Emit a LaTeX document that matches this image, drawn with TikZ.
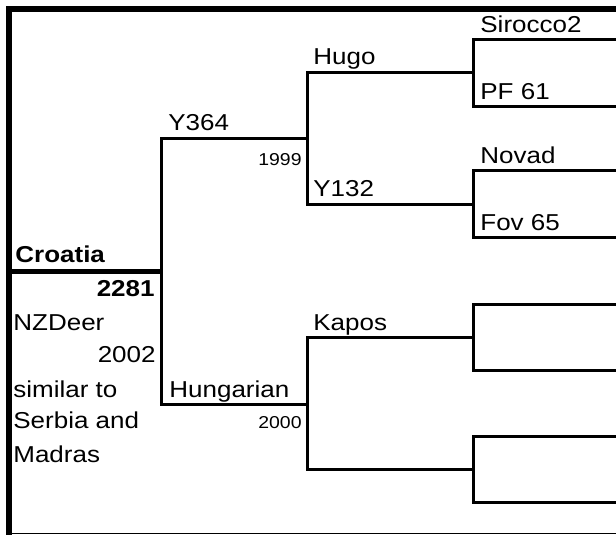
\documentclass[tikz,border=0pt]{standalone}
\usepackage{fontspec}
\setmainfont{Liberation Sans}[FakeStretch=1.13]

\begin{document}
\begin{tikzpicture}[x=0.5pt,y=-0.5pt]
  \tikzset{
    branch/.style={
      draw,
      line width=1.5pt
    },
    mainbranch/.style={
      draw,
      line width=2.5pt
    },
    frame/.style={
      draw,
      line width=2.75pt
    },
    bottomrule/.style={
      draw,
      line width=0.6pt
    },
    entry/.style={
      anchor=base west,
      inner sep=0pt,
      font=\fontsize{11.5}{14}\selectfont
    },
    boldentry/.style={
      entry,
      font=\fontsize{11.5}{14}\selectfont\bfseries
    },
    yearlbl/.style={
      anchor=base east,
      inner sep=0pt,
      font=\fontsize{8.6}{10}\selectfont
    }
  }
  \useasboundingbox (0,0) rectangle (616,535);

  % Frame
  \coordinate (frame-bl) at (9,535);
  \coordinate (frame-tl) at (9,9);
  \coordinate (frame-tr) at (616,9);
  \coordinate (rule-l) at (9,533.7);
  \coordinate (rule-r) at (616,533.7);
  \draw[frame] (frame-bl) -- (frame-tl) -- (frame-tr);
  \draw[bottomrule] (rule-l) -- (rule-r);

  % Generation 0
  \coordinate (croatia-l) at (9,271.5);
  \coordinate (croatia-r) at (161,271.5);
  \draw[mainbranch] (croatia-l) -- (croatia-r);

  % Generation 1
  \coordinate (y364-l) at (161,139);
  \coordinate (y364-r) at (307,139);
  \coordinate (hung-l) at (161,404);
  \coordinate (hung-r) at (307,404);
  \draw[branch] (y364-r) -- (y364-l) -- (hung-l) -- (hung-r);

  % Generation 2
  \coordinate (hugo-l) at (307,73);
  \coordinate (hugo-r) at (473,73);
  \coordinate (y132-l) at (307,204);
  \coordinate (y132-r) at (473,204);
  \draw[branch] (hugo-r) -- (hugo-l) -- (y132-l) -- (y132-r);
  \coordinate (kapos-l) at (307,337);
  \coordinate (kapos-r) at (473,337);
  \coordinate (dam2-l) at (307,469);
  \coordinate (dam2-r) at (473,469);
  \draw[branch] (kapos-r) -- (kapos-l) -- (dam2-l) -- (dam2-r);

  % Generation 3
  \coordinate (sirocco-l) at (473,40);
  \coordinate (sirocco-r) at (616,40);
  \coordinate (pf-l) at (473,106.5);
  \coordinate (pf-r) at (616,106.5);
  \draw[branch] (sirocco-r) -- (sirocco-l) -- (pf-l) -- (pf-r);
  \coordinate (novad-l) at (473,171);
  \coordinate (novad-r) at (616,171);
  \coordinate (fov-l) at (473,237);
  \coordinate (fov-r) at (616,237);
  \draw[branch] (novad-r) -- (novad-l) -- (fov-l) -- (fov-r);
  \coordinate (sire3-l) at (473,304);
  \coordinate (sire3-r) at (616,304);
  \coordinate (dam3-l) at (473,370);
  \coordinate (dam3-r) at (616,370);
  \draw[branch] (sire3-r) -- (sire3-l) -- (dam3-l) -- (dam3-r);
  \coordinate (sire4-l) at (473,436);
  \coordinate (sire4-r) at (616,436);
  \coordinate (dam4-l) at (473,502);
  \coordinate (dam4-r) at (616,502);
  \draw[branch] (sire4-r) -- (sire4-l) -- (dam4-l) -- (dam4-r);

  % Labels above the lines
  \node[entry] (sirocco) at (480,33) {Sirocco2};
  \node[entry] (pf) at (480,100) {PF 61};
  \node[entry] (novad) at (480,163) {Novad};
  \node[entry] (fov) at (480,230) {Fov 65};
  \node[entry] (hugo) at (313,65) {Hugo};
  \node[entry] (y132) at (313,197) {Y132};
  \node[entry] (kapos) at (313,330) {Kapos};
  \node[entry] (y364) at (168,131) {Y364};
  \node[entry] (hungarian) at (169,397) {Hungarian};
  \node[yearlbl] (yr1999) at (302,165) {1999};
  \node[yearlbl] (yr2000) at (302,428) {2000};

  % Description of the subject
  \node[boldentry] (croatia) at (15,262) {Croatia};
  \node[boldentry, anchor=base east] (num2281) at (155,296) {2281};
  \node[entry] (nzdeer) at (13,330) {NZDeer};
  \node[entry, anchor=base east] (yr2002) at (156,362) {2002};
  \node[entry] (similar) at (13,397) {similar to};
  \node[entry] (serbia) at (13,428) {Serbia and};
  \node[entry] (madras) at (13,462) {Madras};

\end{tikzpicture}
\end{document}
